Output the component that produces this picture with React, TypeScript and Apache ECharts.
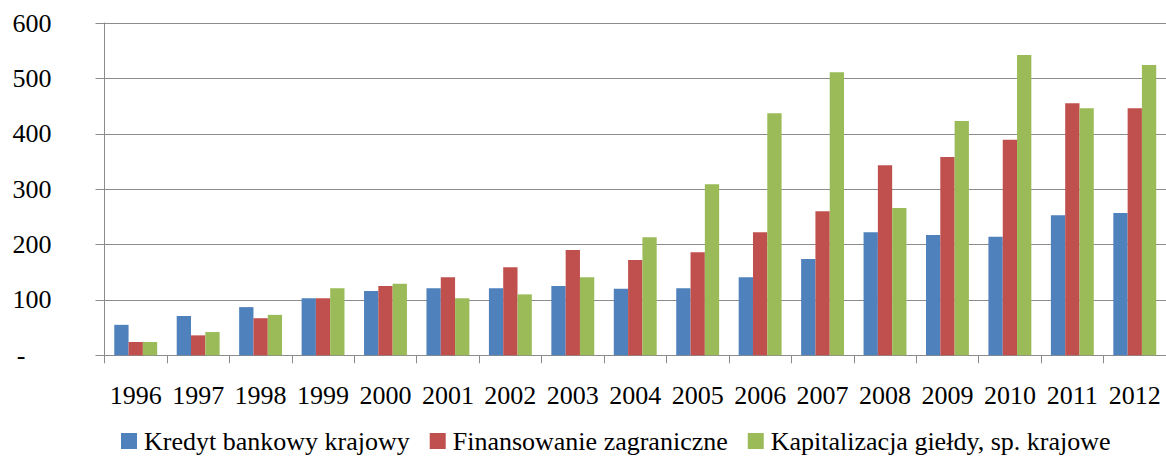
import React, { useEffect, useRef } from "react";
import * as echarts from "echarts";

const years = ["1996","1997","1998","1999","2000","2001","2002","2003","2004","2005","2006","2007","2008","2009","2010","2011","2012"];
const kredyt = [55, 71, 87, 103, 116, 121, 121, 125, 120, 121, 141, 174, 222, 217, 214, 253, 257];
const finansowanie = [24, 36, 67, 103, 125, 141, 159, 190, 172, 186, 222, 260, 343, 358, 389, 455, 446];
const kapitalizacja = [24, 42, 73, 121, 129, 103, 110, 141, 213, 309, 437, 511, 266, 423, 542, 446, 524];
const seriesNames = ["Kredyt bankowy krajowy", "Finansowanie zagraniczne", "Kapitalizacja giełdy, sp. krajowe"];
const colors = ["#4F81BD", "#C0504D", "#9BBB59"];

export default function App() {
  const ref = useRef<HTMLDivElement>(null);
  useEffect(() => {
    if (!ref.current) return;
    const chart = echarts.init(ref.current, undefined, { renderer: "svg" });
    const font = "Liberation Serif";
    const data = [kredyt, finansowanie, kapitalizacja];
    chart.setOption({
      animation: false,
      textStyle: { fontFamily: font },
      grid: { left: 104.5, top: 23, width: 1066, height: 332.3, containLabel: false },
      legend: {
        left: 121,
        top: 428,
        itemWidth: 16,
        itemHeight: 16,
        itemGap: 20,
        icon: "rect",
        padding: 0,
        textStyle: { fontFamily: font, fontSize: 26, lineHeight: 24, color: "#000", padding: [0, 0, 0, 2] },
        data: seriesNames,
      },
      xAxis: {
        type: "category",
        data: years,
        axisLine: { show: true, lineStyle: { color: "#8c8c8c", width: 1 } },
        axisTick: { show: true, length: 8, lineStyle: { color: "#8c8c8c" } },
        axisLabel: { fontFamily: font, fontSize: 26, color: "#000", margin: 27, interval: 0 },
      },
      yAxis: {
        type: "value",
        min: 0,
        max: 600,
        interval: 100,
        axisLine: { show: true, lineStyle: { color: "#8c8c8c", width: 1 } },
        axisTick: { show: true, length: 9, lineStyle: { color: "#8c8c8c" } },
        splitLine: { show: true, lineStyle: { color: "#8c8c8c", width: 1 } },
        axisLabel: {
          fontFamily: font,
          fontSize: 26,
          color: "#000",
          margin: 53,
          formatter: (v: number) => (v === 0 ? "-\u2007\u2007" : String(v)),
        },
      },
      series: seriesNames.map((name, i) => ({
        name,
        type: "bar",
        data: data[i],
        barWidth: 14.3,
        barGap: "0%",
        itemStyle: { color: colors[i] },
      })),
    });
    return () => chart.dispose();
  }, []);
  return <div ref={ref} style={{ position: "absolute", left: 0, top: 0, width: 1166, height: 456 }} />;
}
